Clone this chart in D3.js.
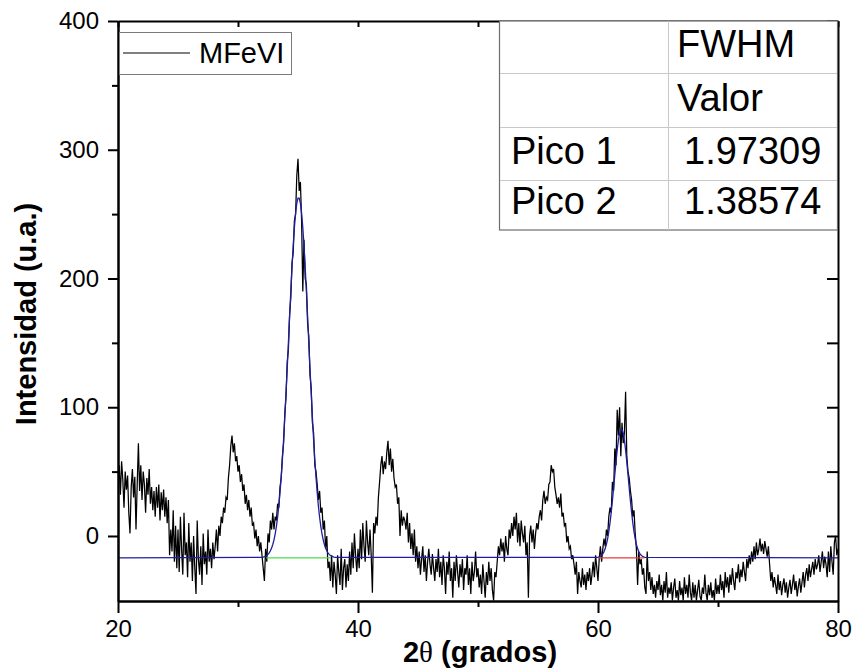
<!DOCTYPE html>
<html>
<head>
<meta charset="utf-8">
<script src="https://cdn.jsdelivr.net/npm/d3@7"></script>
<style>
body {margin:0; background:#fff;}
text {font-family: "Liberation Sans", Arial, sans-serif;}
</style>
</head>
<body>
<script>
// XRD MFeVI + ajuste de picos
var w = 856;
var h = 672;
var margin = {top: 21, right: 18, bottom: 71, left: 118};
var pw = w - margin.left - margin.right;
var ph = h - margin.top - margin.bottom;

// datos: 2theta de 20 a 80, paso 0.1
var thetaStart = 20;
var thetaStep = 0.1;
var intensity = [
  40, 55, 32, 58, 44, 22, 50, 36, 47, 18,
  2, 38, 52, 30, 46, 5, 40, 72, 35, 55,
  28, 50, 40, 18, 45, 32, 52, 25, 38, 20,
  35, 15, 38, 22, 40, 12, 34, 20, 36, 15,
  30, 10, 28, -15, 5, -12, 20, -20, 8, -25,
  5, -28, 15, -10, -30, 18, -15, -5, -32, 10,
  -20, -5, -35, 0, -25, -45, 12, -18, -30, -8,
  -38, 2, -22, -12, -30, 5, -20, -10, -25, -5,
  -18, -8, 5, -12, 8, 0, 15, 10, 22, 18,
  30, 28, 45, 55, 70, 78, 65, 72, 58, 62,
  50, 55, 42, 48, 35, 40, 25, 32, 20, 28,
  15, 22, 8, 10, -2, 5, -8, 0, -12, -5,
  -15, -25, -35, -10, -20, 2, -5, 12, 5, 18,
  5, 15, 12, 25, 22, 38, 45, 62, 72, 95,
  108, 135, 145, 172, 185, 212, 220, 245, 250, 280,
  293, 268, 275, 245, 190, 230, 200, 195, 165, 155,
  125, 115, 88, 80, 55, 50, 40, 28, 35, 18,
  22, 5, 12, -10, 0, -25, -20, -35, -15, -40,
  -20, -30, -45, -15, -28, -38, -10, -42, -25, -18,
  -40, -22, -35, -12, -30, -5, -25, 2, -15, -28,
  -10, -25, 5, -18, 10, -8, -20, 12, -5, -15,
  5, -15, -44, 10, 2, 15, 8, 30, 42, 55,
  62, 48, 58, 52, 65, 74, 55, 68, 50, 60,
  45, 38, 40, 25, 30, 0, 20, 8, 15, 12,
  5, 18, -5, 10, -10, 2, -15, 5, -20, -8,
  -25, -12, -30, -18, -8, -28, -15, -35, -20, -10,
  -22, -30, -14, -25, -35, -18, -28, -10, -32, -20,
  -38, -15, -25, -45, -20, -30, -12, -35, -25, -48,
  -20, -35, -15, -28, -40, -22, -32, -18, -42, -25,
  -30, -15, -38, -25, -45, -20, -35, -28, -12, -32,
  -25, -40, -30, -45, -22, -35, -48, -28, -38, -20,
  -35, -25, -42, -50, -28, -32, -20, -8, -15, -2,
  -12, -5, -20, 0, -10, -15, 5, -2, 10, 0,
  15, 5, 18, -5, 10, -8, 12, 2, -5, 8,
  -15, -5, -48, 0, 8, -5, 5, -10, 2, 10,
  5, 15, 20, 12, 28, 35, 25, 30, 28, 40,
  42, 55, 50, 52, 38, 32, 25, 30, 22, 33,
  15, 18, 8, 10, -5, 0, -10, -8, -18, -15,
  -22, -30, -20, -45, -28, -35, -40, -25, -38, -30,
  -42, -28, -35, -25, -38, -30, -20, -32, -15, -25,
  -35, -18, -8, -20, -10, -2, -8, 5, 0, 15,
  22, 18, 42, 35, 68, 55, 98, 78, 100, 62,
  88, 72, 80, 112, 62, 50, 45, 35, 28, 15,
  20, 2, -10, -38, -12, -22, -18, -30, -25, -40,
  -45, -12, -35, -28, -42, -32, -45, -38, -48, -35,
  -42, -30, -46, -38, -50, -35, -44, -28, -48, -40,
  -45, -36, -50, -40, -33, -48, -42, -50, -35, -46,
  -40, -50, -32, -45, -38, -48, -30, -44, -50, -36,
  -48, -38, -50, -42, -34, -47, -50, -40, -45, -30,
  -44, -50, -38, -46, -36, -48, -42, -50, -33, -45,
  -38, -45, -30, -42, -35, -48, -28, -40, -32, -44,
  -30, -38, -25, -35, -42, -28, -33, -22, -36, -26,
  -32, -20, -28, -35, -18, -25, -15, -22, -12, -20,
  -8, -18, -5, -15, -10, -2, -12, -6, -14, -4,
  -10, -16, -8, -22, -35, -28, -40, -32, -38, -45,
  -30, -42, -35, -46, -38, -33, -44, -36, -48, -40,
  -34, -45, -38, -30, -42, -35, -47, -39, -33, -44,
  -36, -28, -40, -30, -25, -35, -22, -32, -26, -20,
  -30, -18, -26, -22, -15, -28, -20, -12, -25, -16,
  -22, -32, -12, -28, -8, -20, -30, -5, 0, -15,
  -10
];

// ajuste acumulado (linea base + picos)
var baseline = -17;
var fit1Start = 32.0;
var fit1 = [-16.6, -16.4, -16.1, -15.7, -15.1, -14.3, -13.1, -11.5, -9.4, -6.6,
  -3.0, 1.7, 7.5, 14.6, 23.3, 33.6, 45.7, 59.5, 75.0, 92.2,
  111, 130, 150, 170.6, 190, 208.7, 225.4, 239.6, 250.8, 258.5,
  262.5, 262.5, 258.5, 250.8, 239.6, 225.4, 208.7, 190, 170.6, 150,
  130, 111, 92.2, 75, 59.5, 45.7, 33.6, 23.3, 14.6, 7.5,
  1.7, -3, -6.6, -9.4, -11.5, -13.1, -14.3, -15.1, -15.7, -16.1,
  -16.4, -16.6];
var fit2Start = 60.0;
var fit2 = [-16.6, -16.3, -15.8, -15.0, -13.9, -12.2, -9.8, -6.5, -2.2, 3.4,
  10.2, 18.2, 27.4, 37.3, 47.6, 57.6, 66.8, 74.4, 79.8, 82.6,
  82.6, 79.8, 74.4, 66.8, 57.6, 47.6, 37.3, 27.4, 18.2, 10.2,
  3.4, -2.2, -6.5, -9.8, -12.2, -13.9, -15.0, -15.8, -16.3, -16.6];
var peak1Range = [32.35, 37.75];
var peak2Range = [60.05, 63.85];

var xTicks = [20, 40, 60, 80];
var xMinor = [30, 50, 70];
var yTicks = [0, 100, 200, 300, 400];
var yMinor = [50, 150, 250, 350];

var tableRows = [["", "FWHM"], ["", "Valor"], ["Pico 1", "1.97309"], ["Pico 2", "1.38574"]];

var svg = d3.select("body").append("svg")
  .attr("width", w)
  .attr("height", h);

var g = svg.append("g").attr("transform", "translate(" + margin.left + "," + margin.top + ")");

var x = d3.scaleLinear().domain([20, 80]).range([0, pw]);
var y = d3.scaleLinear().domain([-50.5, 400]).range([ph, 0]);

svg.append("defs").append("clipPath").attr("id", "clip")
  .append("rect").attr("width", pw).attr("height", ph);

var line = d3.line()
  .x(function(d) {return x(d[0]);})
  .y(function(d) {return y(d[1]);});

var dataPts = intensity.map(function(v, i) {return [thetaStart + i * thetaStep, v];});

var fitPts = [[20, baseline]];
fit1.forEach(function(v, i) {fitPts.push([fit1Start + i * 0.1, v]);});
fit2.forEach(function(v, i) {fitPts.push([fit2Start + i * 0.1, v]);});
fitPts.push([80, baseline]);

var plot = g.append("g").attr("clip-path", "url(#clip)");

plot.append("path")
  .datum(dataPts)
  .attr("d", line)
  .attr("fill", "none")
  .attr("stroke", "#000")
  .attr("stroke-width", 1.25);

plot.append("path")
  .datum(fitPts)
  .attr("d", line)
  .attr("fill", "none")
  .attr("stroke", "#1f1f9e")
  .attr("stroke-width", 1.3);

plot.append("path")
  .datum([[peak1Range[0], baseline], [peak1Range[1], baseline]])
  .attr("d", line)
  .attr("stroke", "#4ddc4d")
  .attr("stroke-width", 1.3);

plot.append("path")
  .datum([[peak2Range[0], baseline], [peak2Range[1], baseline]])
  .attr("d", line)
  .attr("stroke", "#e83a3a")
  .attr("stroke-width", 1.3);

// ejes
function styleAxis(sel) {
  sel.select(".domain").attr("stroke", "#000").attr("stroke-width", 2);
  sel.selectAll(".tick line").attr("stroke", "#000").attr("stroke-width", 2);
  sel.selectAll(".tick text")
    .attr("font-size", 24)
    .attr("fill", "#000")
    .attr("font-family", "Liberation Sans, Arial, sans-serif");
}

g.append("g").attr("transform", "translate(0," + ph + ")")
  .call(d3.axisBottom(x).tickValues(xTicks).tickSize(12).tickSizeOuter(0).tickPadding(7).tickFormat(d3.format("d")))
  .call(styleAxis);
g.append("g").attr("transform", "translate(0," + ph + ")")
  .call(d3.axisBottom(x).tickValues(xMinor).tickSize(6).tickSizeOuter(0).tickFormat(""))
  .call(styleAxis);

g.append("g")
  .call(d3.axisLeft(y).tickValues(yTicks).tickSize(10).tickSizeOuter(0).tickPadding(9).tickFormat(d3.format("d")))
  .call(styleAxis);
g.append("g")
  .call(d3.axisLeft(y).tickValues(yMinor).tickSize(6).tickSizeOuter(0).tickFormat(""))
  .call(styleAxis);

// ejes espejo, marcas hacia dentro
g.append("g")
  .call(d3.axisBottom(x).tickValues(xTicks.concat(xMinor)).tickSize(6).tickSizeOuter(0).tickFormat(""))
  .call(styleAxis);
g.append("g").attr("transform", "translate(" + pw + ",0)")
  .call(d3.axisLeft(y).tickValues(yTicks.concat(yMinor)).tickSize(11).tickSizeOuter(0).tickFormat(""))
  .call(styleAxis);

// titulos
svg.append("text")
  .attr("x", 480)
  .attr("y", 662)
  .attr("text-anchor", "middle")
  .attr("font-size", 29)
  .attr("font-weight", "bold")
  .call(function(t) {
    t.append("tspan").text("2");
    t.append("tspan").attr("font-weight", "normal").attr("font-family", "Liberation Serif, serif").text("θ");
    t.append("tspan").text(" (grados)");
  });

svg.append("text")
  .attr("transform", "translate(36,314) rotate(-90)")
  .attr("text-anchor", "middle")
  .attr("font-size", 29)
  .attr("font-weight", "bold")
  .text("Intensidad (u.a.)");

// leyenda
var leg = svg.append("g");
leg.append("rect")
  .attr("x", 119.5).attr("y", 32.5)
  .attr("width", 172).attr("height", 42)
  .attr("fill", "#fff")
  .attr("stroke", "#7a7a7a")
  .attr("stroke-width", 1);
leg.append("line")
  .attr("x1", 123).attr("x2", 190)
  .attr("y1", 53).attr("y2", 53)
  .attr("stroke", "#000")
  .attr("stroke-width", 1);
leg.append("text")
  .attr("x", 199).attr("y", 63)
  .attr("font-size", 29)
  .text("MFeVI");

// tabla FWHM
var tx = 499, tw = 338, col = 668;
var rowY = [21, 73, 127, 180, 230];
var tab = svg.append("g");
tab.append("rect")
  .attr("x", tx + 0.5).attr("y", rowY[0])
  .attr("width", tw).attr("height", rowY[4] - rowY[0])
  .attr("fill", "#fff")
  .attr("stroke", "#6e6e6e")
  .attr("stroke-width", 1.2);
tab.selectAll("line.row")
  .data(rowY.slice(1, 4))
  .enter()
  .append("line")
  .attr("x1", tx + 1).attr("x2", tx + tw)
  .attr("y1", function(d) {return d + 0.5;})
  .attr("y2", function(d) {return d + 0.5;})
  .attr("stroke", "#c8c8c8");
tab.append("line")
  .attr("x1", col + 0.5).attr("x2", col + 0.5)
  .attr("y1", rowY[0]).attr("y2", rowY[4])
  .attr("stroke", "#c8c8c8");

tableRows.forEach(function(r, i) {
  var base = rowY[i + 1] - 16;
  tab.append("text").attr("x", 511).attr("y", base)
    .attr("font-size", 38).text(r[0]);
  tab.append("text").attr("x", i < 2 ? 677 : 684).attr("y", base)
    .attr("font-size", 38).text(r[1]);
});
</script>
</body>
</html>
